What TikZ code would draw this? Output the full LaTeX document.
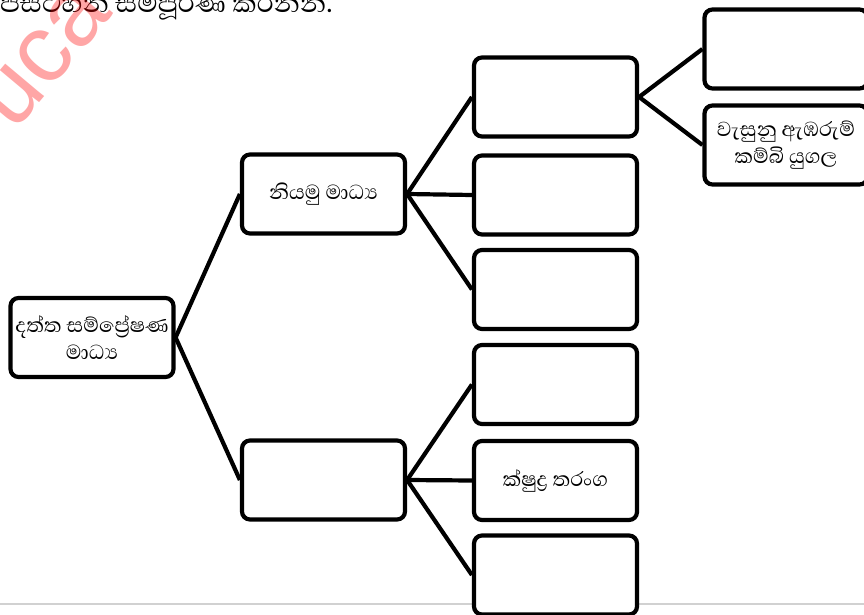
\documentclass[tikz,border=0pt]{standalone}
\usepackage{fontspec}
\newfontfamily\sinhalafont[Script=Sinhala]{Abhaya Libre}
\newfontfamily\wmfont{Liberation Sans}
\begin{document}
\begin{tikzpicture}[x=1pt,y=1pt,
  box/.style={draw=black, fill=white, line width=4.2pt, rounded corners=8pt,
    minimum width=163pt, minimum height=79pt, align=center,
    font=\sinhalafont\fontsize{26}{27}\selectfont},
  link/.style={draw=black, line width=4.2pt}]
\clip (0,0) rectangle (864,614);

% instruction line at the top edge
\node[anchor=base west, inner sep=0pt, font=\sinhalafont\fontsize{34}{36}\selectfont]
  (title) at (0,601) {පසටහන සම්පූර්ණ කරන්න.};

% page rule near the bottom
\coordinate (ruleL) at (0,10);
\coordinate (ruleR) at (864,10);
\draw[black!18, line width=1.5pt] (ruleL) -- (ruleR);

% boxes
\node[box] (root) at (92,276.5) {දත්ත සම්ප්‍රේෂණ\\මාධ්‍ය};
\node[box] (guided) at (323.5,420) {නියමු මාධ්‍ය};
\node[box] (unguided) at (323.5,134) {};

\node[box] (g1) at (555.5,517) {};
\node[box] (g2) at (555.5,419) {};
\node[box] (g3) at (555.5,324.5) {};
\node[box] (u1) at (555.5,229.5) {};
\node[box] (u2) at (555.5,133.5) {ක්ෂුද්‍ර තරංග};
\node[box] (u3) at (555.5,39) {};

\node[box] (t1) at (786,565) {};
\node[box] (t2) at (786,469) {වැසුනු ඇඹරුම්\\කම්බි යුගල};

% connectors
\draw[link] (guided.west) -- (root.east) -- (unguided.west);
\draw[link] (g1.west) -- (guided.east) -- (g3.west);
\draw[link] (guided.east) -- (g2.west);
\draw[link] (u1.west) -- (unguided.east) -- (u3.west);
\draw[link] (unguided.east) -- (u2.west);
\draw[link] (t1.west) -- (g1.east) -- (t2.west);

% watermark
\node[rotate=50, text=red, opacity=0.35, inner sep=0pt,
  font=\wmfont\fontsize{96}{96}\selectfont] (mark) at (45,557) {uca};
\end{tikzpicture}
\end{document}
